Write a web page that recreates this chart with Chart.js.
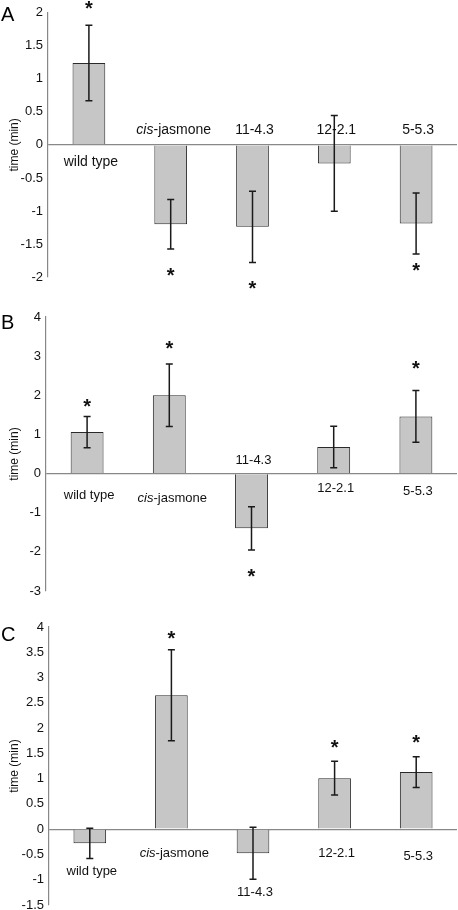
<!DOCTYPE html>
<html>
<head>
<title>Time differences - panels A, B, C</title>
<script src="https://cdn.jsdelivr.net/npm/chart.js"></script>
<style>
    html, body {
        margin: 0;
        padding: 0;
        background: #fff;
        width: 458px;
        height: 910px;
        overflow: hidden;
        font-family: "Liberation Sans", Arial, sans-serif;
    }
    .panel {
        position: absolute;
        left: 0;
        width: 458px;
    }
    .letter {
        position: absolute;
        left: 1px;
        font-size: 20px;
        line-height: 20px;
        color: #000;
    }
</style>
</head>
<body>
<div class="panel" style="top:0;height:290px"><canvas id="chartA"></canvas></div>
<div class="panel" style="top:290px;height:320px"><canvas id="chartB"></canvas></div>
<div class="panel" style="top:600px;height:320px"><canvas id="chartC"></canvas></div>
<div class="letter" style="top:4px">A</div>
<div class="letter" style="top:312px">B</div>
<div class="letter" style="top:624px">C</div>

<script>
// categories shared by all three panels
const categories = ['wild type', 'cis-jasmone', '11-4.3', '12-2.1', '5-5.3'];

// panel A
const valuesA = [1.24, -1.20, -1.24, -0.28, -1.19];
const errorsA = [0.57, 0.375, 0.54, 0.725, 0.46];
const starsA = [2.12, -1.92, -2.12, null, -1.85];
const labelYA = [-0.26, 0.23, 0.23, 0.23, 0.23];

// panel B
const valuesB = [1.06, 2.0, -1.40, 0.68, 1.46];
const errorsB = [0.40, 0.80, 0.55, 0.53, 0.66];
const starsB = [1.80, 3.29, -2.53, null, 2.78];
const labelYB = [-0.57, -0.64, 0.33, -0.39, -0.46];

// panel C
const valuesC = [-0.28, 2.65, -0.475, 1.01, 1.13];
const errorsC = [0.30, 0.90, 0.515, 0.335, 0.305];
const starsC = [null, 3.85, null, 1.69, 1.78];
const labelYC = [-0.84, -0.475, -1.25, -0.475, -0.53];

const FONT = '"Liberation Sans", Arial, sans-serif';

// error bars, asterisks and the category labels next to each bar
const extrasPlugin = {
    id: 'extras',
    afterDatasetsDraw(chart, args, opts) {
        const ctx = chart.ctx;
        const y = chart.scales.y;
        const meta = chart.getDatasetMeta(0);
        ctx.save();
        meta.data.forEach((bar, i) => {
            const v = opts.values[i], e = opts.errors[i];
            const yt = y.getPixelForValue(v + e);
            const yb = y.getPixelForValue(v - e);
            ctx.strokeStyle = '#1a1a1a';
            ctx.lineWidth = 1.5;
            ctx.beginPath();
            ctx.moveTo(bar.x, yt); ctx.lineTo(bar.x, yb);
            ctx.moveTo(bar.x - 3.5, yt); ctx.lineTo(bar.x + 3.5, yt);
            ctx.moveTo(bar.x - 3.5, yb); ctx.lineTo(bar.x + 3.5, yb);
            ctx.stroke();

            // asterisk
            if (opts.stars[i] !== null) {
                ctx.font = 'bold 20px ' + FONT;
                ctx.fillStyle = '#111';
                ctx.textAlign = 'center';
                ctx.textBaseline = 'alphabetic';
                const m = ctx.measureText('*');
                const cy = y.getPixelForValue(opts.stars[i]);
                ctx.fillText('*', bar.x, cy + (m.actualBoundingBoxAscent - m.actualBoundingBoxDescent) / 2);
            }

            // label
            const ly = y.getPixelForValue(opts.labelY[i]);
            const txt = categories[i];
            ctx.fillStyle = '#111';
            ctx.textBaseline = 'middle';
            const normal = opts.labelSize + 'px ' + FONT;
            const italic = 'italic ' + opts.labelSize + 'px ' + FONT;
            if (txt.startsWith('cis-')) {
                ctx.font = italic;
                const w1 = ctx.measureText('cis').width;
                ctx.font = normal;
                const w2 = ctx.measureText(txt.slice(3)).width;
                const x0 = bar.x + 3 - (w1 + w2) / 2;
                ctx.textAlign = 'left';
                ctx.font = italic;
                ctx.fillText('cis', x0, ly);
                ctx.font = normal;
                ctx.fillText(txt.slice(3), x0 + w1, ly);
            } else {
                ctx.font = normal;
                ctx.textAlign = 'center';
                ctx.fillText(txt, bar.x + 2, ly);
            }
        });
        ctx.restore();
    }
};

function makeChart(id, values, errors, stars, labelY, yMin, yMax, yStep, pad, axisW, labelSize) {
    return new Chart(document.getElementById(id), {
        type: 'bar',
        data: {
            labels: categories,
            datasets: [{
                data: values,
                backgroundColor: '#c6c6c6',
                borderColor: '#2a2a2a',
                borderWidth: 1,
                barPercentage: 0.4,
                categoryPercentage: 1.0
            }]
        },
        options: {
            responsive: true,
            maintainAspectRatio: false,
            animation: false,
            layout: { padding: { top: pad.top, bottom: pad.bottom, left: 0, right: 1 } },
            plugins: {
                legend: { display: false },
                tooltip: { enabled: false },
                extras: { values: values, errors: errors, stars: stars, labelY: labelY, labelSize: labelSize }
            },
            scales: {
                x: { display: false },
                y: {
                    min: yMin,
                    max: yMax,
                    afterFit: s => { s.width = axisW; },
                    ticks: {
                        stepSize: yStep,
                        padding: 5,
                        color: '#111',
                        font: { family: FONT, size: 13 },
                        callback: v => String(Math.round(v * 100) / 100)
                    },
                    grid: {
                        drawTicks: false,
                        color: c => (c.tick && c.tick.value === 0) ? '#888' : 'rgba(0,0,0,0)',
                        lineWidth: 1.2
                    },
                    border: { display: true, color: '#888', width: 1.2 },
                    title: {
                        display: true,
                        text: 'time (min)',
                        color: '#111',
                        font: { family: FONT, size: 12 },
                        padding: { top: 7, bottom: 0 }
                    }
                }
            }
        },
        plugins: [extrasPlugin]
    });
}

makeChart('chartA', valuesA, errorsA, starsA, labelYA, -2, 2, 0.5, { top: 12, bottom: 13 }, 48, 14);
makeChart('chartB', valuesB, errorsB, starsB, labelYB, -3, 4, 1, { top: 27, bottom: 19 }, 46, 13);
makeChart('chartC', valuesC, errorsC, starsC, labelYC, -1.5, 4, 0.5, { top: 27, bottom: 15 }, 49, 13);
</script>
</body>
</html>
